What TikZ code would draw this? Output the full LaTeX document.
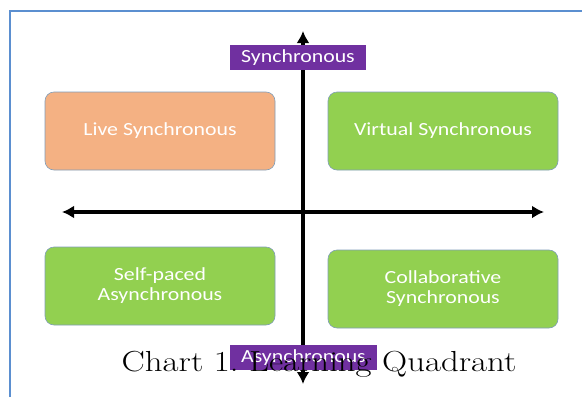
\documentclass[tikz,border=0pt]{standalone}
\usepackage{fontspec}
\newfontfamily\boxfont[FakeStretch=1.18]{Carlito}
\newfontfamily\capfont[FakeStretch=1.2]{Latin Modern Roman}
\usetikzlibrary{positioning,arrows.meta}
\definecolor{quadgreen}{HTML}{92D050}
\definecolor{quadorange}{HTML}{F4B183}
\definecolor{quadpurple}{HTML}{7030A0}
\definecolor{quadedge}{HTML}{7F9DB9}
\definecolor{frameblue}{HTML}{5B8FD0}

\begin{document}
\begin{tikzpicture}[x=1pt,y=-1pt]
    \useasboundingbox (0,0) rectangle (582,397);
    \begin{scope}[rounded corners=9pt, text centered,
    		block/.style={rectangle,draw=quadedge,line width=0.6pt,fill=quadgreen,text=white,
    			minimum width=230pt,minimum height=78pt,align=center,
    			font=\boxfont\fontsize{18.5}{20}\selectfont},
    		tag/.style={rectangle,sharp corners,fill=quadpurple,text=white,inner sep=0pt,
    			minimum height=25pt,font=\boxfont\fontsize{18.5}{20}\selectfont},
    		axis/.style={black, line width=3.4pt, -{Latex[length=12pt,width=13pt]}}]

    % frame of the page
    \draw[frameblue, line width=1.3pt, sharp corners] (10,397) -- (10,11) -- (582,11);

    \coordinate (top) at (303,31);
    \coordinate (bottom) at (303,384);
    \coordinate (left) at (62,212);
    \coordinate (right) at (544,212);
    \coordinate (mid) at (303,212);

    \draw[axis] (mid) -- (top);
    \draw[axis] (mid) -- (bottom);
    \draw[axis] (mid) -- (left);
    \draw[axis] (mid) -- (right);

    \node[tag, minimum width=136pt] (sync) at (298,57.5) {Synchronous};
    \node[tag, minimum width=147pt] (async) at (303.5,357.5) {Asynchronous};

    \node[block] (live) at (160,131) [fill=quadorange] {Live Synchronous};
    \node[block] (virtual) at (443,131) {Virtual Synchronous};
    \node[block] (self) at (160,286) {Self-paced\\Asynchronous};
    \node[block] (collab) at (443,289) {Collaborative\\Synchronous};

    \node[anchor=base, inner sep=0pt, font=\capfont\fontsize{29}{32}\selectfont] (caption) at (319,371) {Chart 1.\ Learning Quadrant};

    \end{scope}
\end{tikzpicture}
\end{document}
